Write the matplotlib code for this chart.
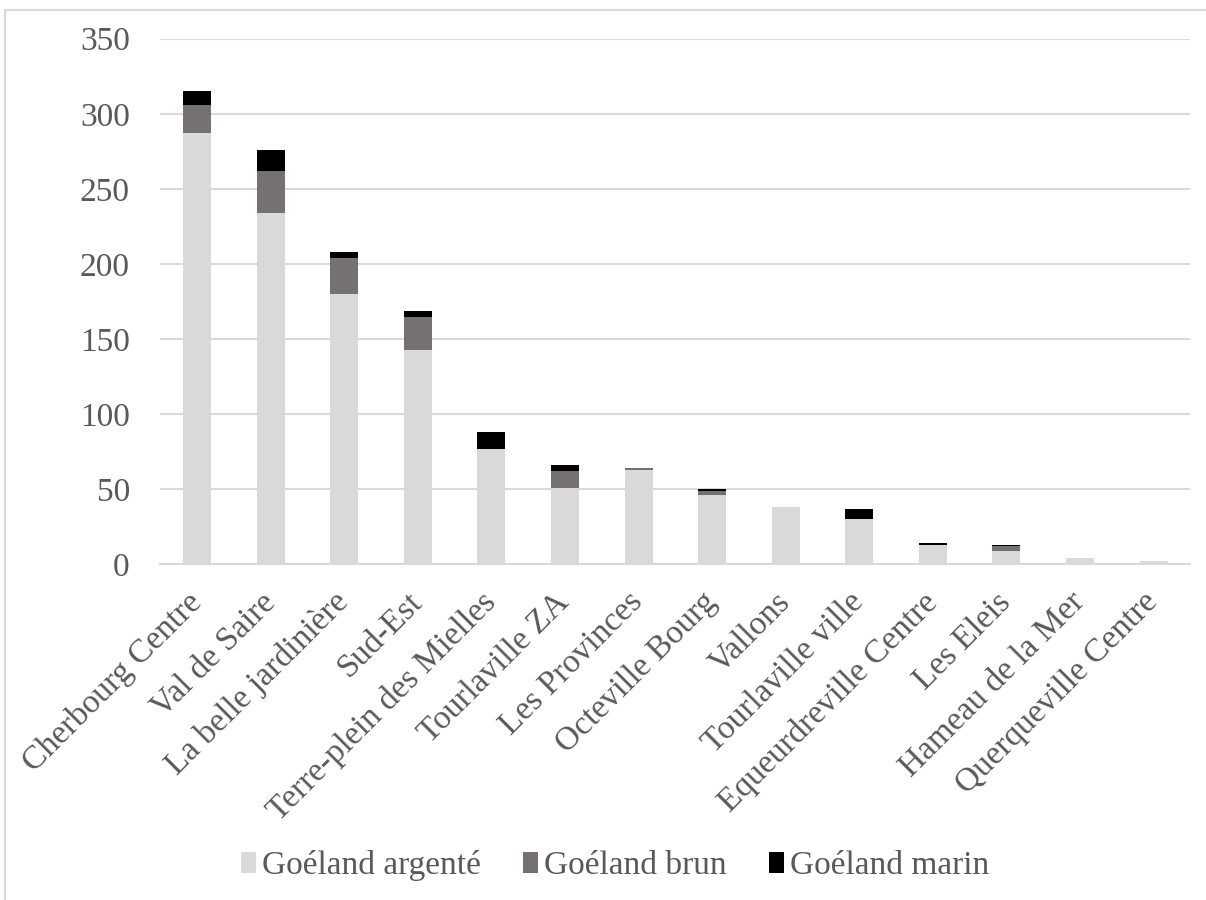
import matplotlib.pyplot as plt
import numpy as np
from matplotlib.patches import Rectangle

plt.rcParams["font.family"] = ["Liberation Serif", "DejaVu Serif"]

sites = [
    "Cherbourg Centre", "Val de Saire", "La belle jardinière", "Sud-Est",
    "Terre-plein des Mielles", "Tourlaville ZA", "Les Provinces",
    "Octeville Bourg", "Vallons", "Tourlaville ville",
    "Equeurdreville Centre", "Les Eleis", "Hameau de la Mer",
    "Querqueville Centre",
]
argente = [287, 234, 180, 143, 77, 51, 63, 46, 38, 30, 13, 9, 4, 2]
brun = [19, 28, 24, 22, 0, 11, 1, 3, 0, 0, 0, 3, 0, 0]
marin = [9, 14, 4, 4, 11, 4, 0, 1, 0, 7, 1, 1, 0, 0]

text_col = "#595959"
fig = plt.figure(figsize=(12.06, 9), dpi=100)
ax = fig.add_axes([0.133, 0.373, 0.854, 0.584])

x = np.arange(len(sites))
a = np.array(argente)
b = np.array(brun)
m = np.array(marin)
w = 0.38
ax.bar(x, a, w, color="#d9d9d9", label="Goéland argenté", zorder=3)
ax.bar(x, b, w, bottom=a, color="#767171", label="Goéland brun", zorder=3)
ax.bar(x, m, w, bottom=a + b, color="#000000", label="Goéland marin", zorder=3)

ax.set_ylim(0, 350)
ax.set_xlim(-0.5, len(sites) - 0.5)
ax.set_yticks(range(0, 351, 50))
ax.yaxis.grid(True, color="#d9d9d9", linewidth=1.5, zorder=0)
for s in ["top", "right", "left"]:
    ax.spines[s].set_visible(False)
ax.spines["bottom"].set_color("#d9d9d9")
ax.spines["bottom"].set_linewidth(1.5)
ax.tick_params(axis="both", length=0, labelsize=24, colors=text_col)
ax.tick_params(axis="y", pad=22)
ax.tick_params(axis="x", pad=24)
ax.set_xticks(x)
ax.set_xticklabels(sites, rotation=45, ha="right", va="center",
                   rotation_mode="anchor")

fig.legend(loc="center", bbox_to_anchor=(0.51, 0.038), ncol=3, frameon=False,
           fontsize=24, handlelength=0.45, handleheight=0.6,
           handletextpad=0.2, columnspacing=1.25, labelcolor=text_col)

fig.patches.append(Rectangle((0.004, -0.1), 1.1, 1.089, transform=fig.transFigure,
                             fill=False, edgecolor="#d9d9d9", linewidth=1.5))

fig.savefig("out.png", dpi=100)
